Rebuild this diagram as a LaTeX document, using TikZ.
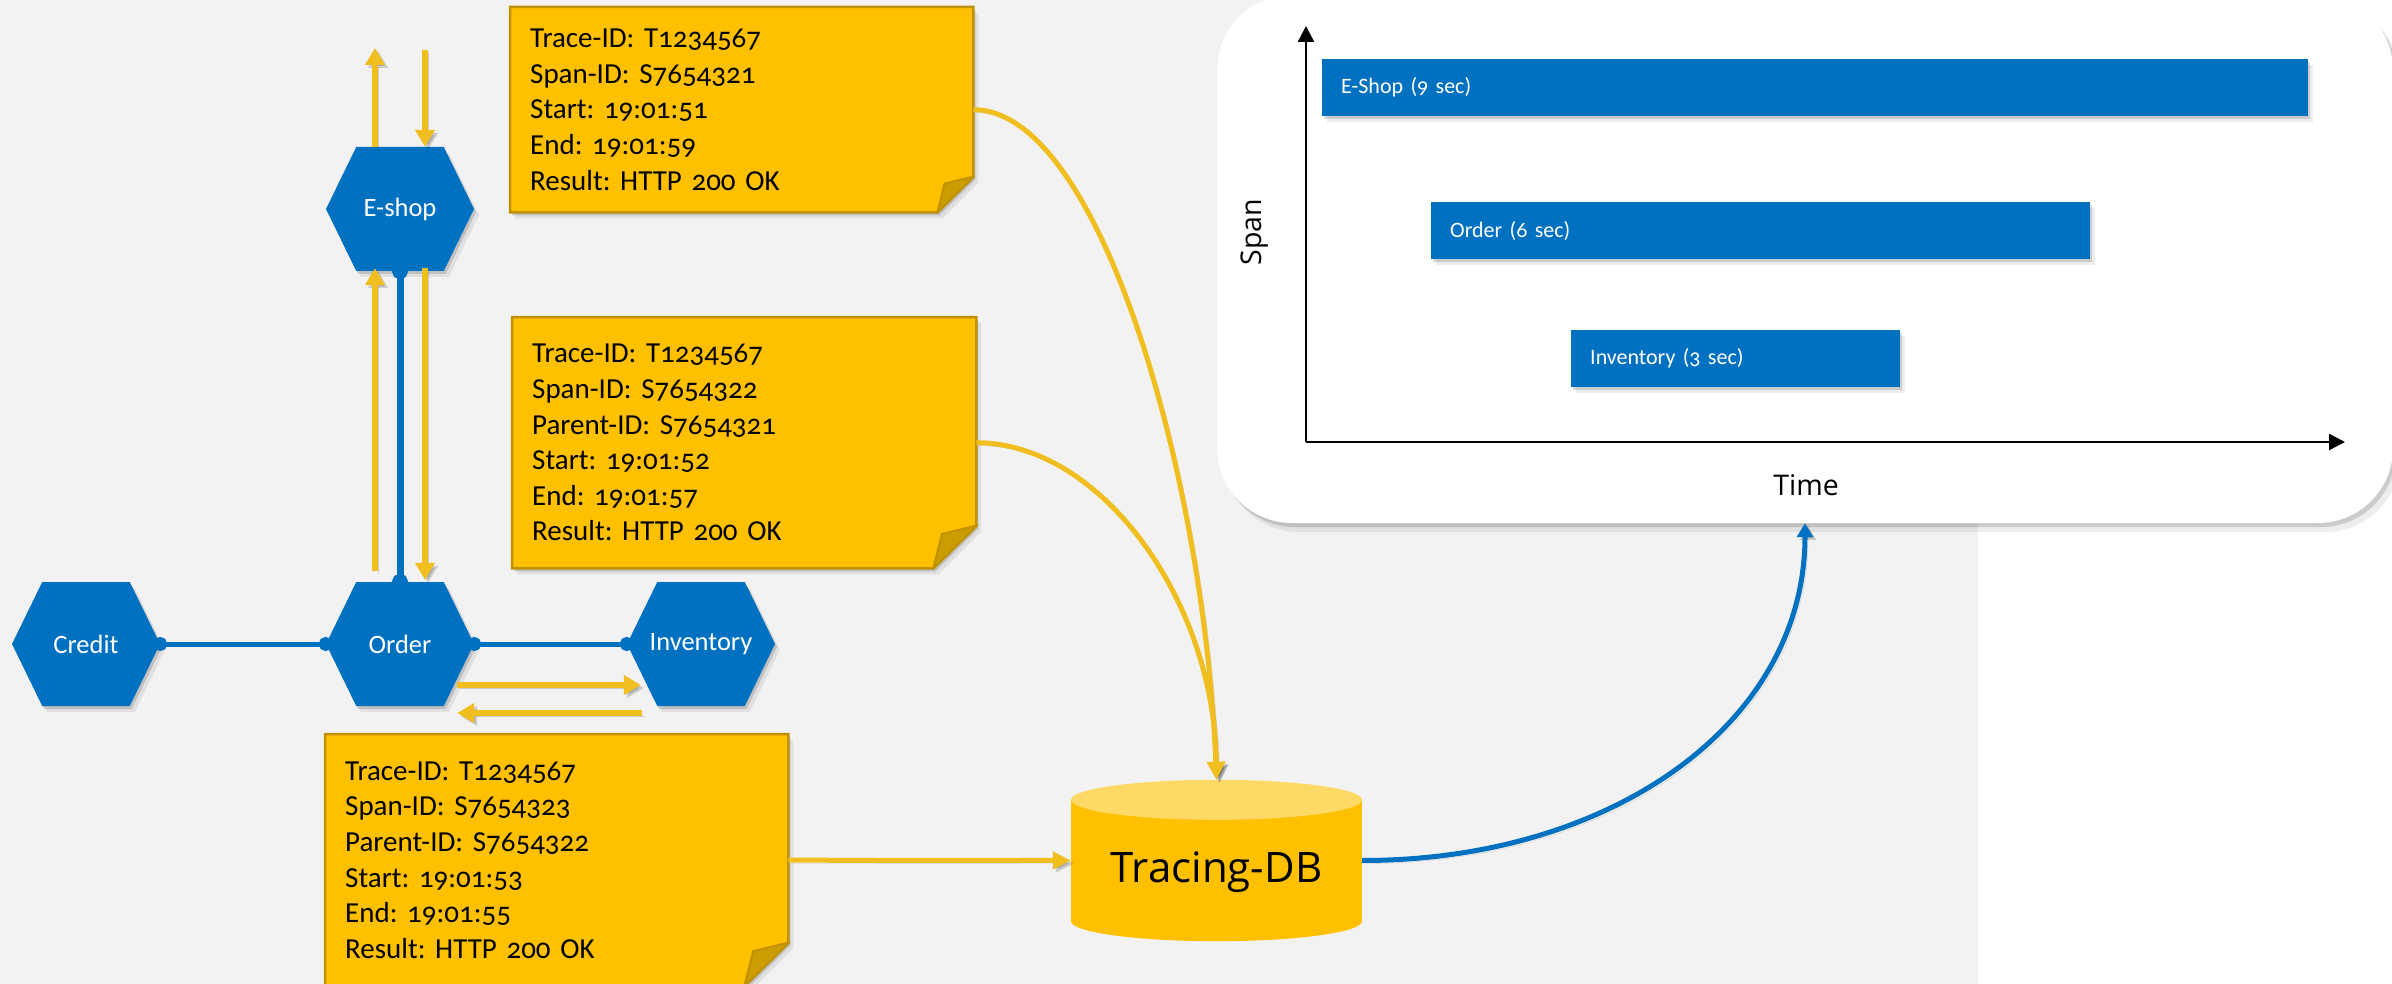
\documentclass[tikz,border=0pt]{standalone}
\usepackage{fontspec}
\setmainfont[Numbers=OldStyle,WordSpace=0.8]{Carlito}
\newfontfamily\uifont{Open Sans}
\usetikzlibrary{shapes.symbols,arrows.meta,shadows,calc}

\pgfdeclarelayer{back}
\pgfdeclarelayer{mid}
\pgfsetlayers{back,mid,main}

\definecolor{canvasgray}{HTML}{F2F2F2}
\definecolor{svcblue}{HTML}{0070C0}
\definecolor{notefill}{HTML}{FFC000}
\definecolor{noteedge}{HTML}{BF9000}
\definecolor{notefold}{HTML}{CC9C00}
\definecolor{flowyellow}{HTML}{F0BE1E}
\definecolor{dbtop}{HTML}{FFD966}

% label that does not widen the hexagon
\newcommand{\hexlabel}[1]{\makebox[0pt]{#1}}

\tikzset{
  softshadow/.style={
    drop shadow={shadow xshift=2pt,shadow yshift=-3pt,opacity=.14,fill=black},
    drop shadow={shadow xshift=5pt,shadow yshift=-6pt,opacity=.07,fill=black}},
  panelshadow/.style={
    drop shadow={shadow xshift=3pt,shadow yshift=-4pt,opacity=.14,fill=black},
    drop shadow={shadow xshift=7pt,shadow yshift=-9pt,opacity=.07,fill=black}},
  lineshadow/.style={preaction={draw=black,opacity=.16,
    transform canvas={xshift=3pt,yshift=-3pt}}},
  hexnode/.style={signal, signal to=east and west, signal pointer angle=128,
    fill=svcblue, minimum width=148pt, minimum height=124pt, inner sep=0pt,
    text=white, font=\fontsize{26.5}{30}\selectfont, softshadow},
  notetext/.style={anchor=north west, inner xsep=20pt, inner ysep=0pt,
    align=left, font=\fontsize{29}{35.6}\selectfont\frenchspacing},
  notepaper/.style={fill=notefill, draw=noteedge, line width=2.5pt, softshadow},
  notefoldst/.style={fill=notefold, draw=noteedge, line width=2pt, line join=round},
  wireV/.style={draw=svcblue, line width=7pt, shorten <=-8pt, shorten >=-8pt,
    {Circle[length=16pt]}-{Circle[length=16pt]}},
  wireH/.style={draw=svcblue, line width=5pt, shorten <=-7pt, shorten >=-7pt,
    {Circle[length=14pt]}-{Circle[length=14pt]}},
  flowarrow/.style={draw=flowyellow, line width=6pt,
    -{Triangle[width=19pt,length=17pt]}, lineshadow},
  flowcurve/.style={draw=flowyellow, line width=5pt,
    -{Triangle[width=17pt,length=18pt]}, lineshadow},
  dataflow/.style={draw=svcblue, line width=5pt,
    -{Triangle[width=16pt,length=14pt]}, lineshadow},
  axisline/.style={draw=black, line width=2.5pt, -{Triangle[width=16pt,length=16pt]}},
  axislabel/.style={font=\uifont\fontsize{28.5}{32}\selectfont, inner sep=0pt},
  panelbox/.style={fill=white, rounded corners=75pt, minimum width=1176pt,
    minimum height=528pt, inner sep=0pt, panelshadow},
  spanbar/.style={anchor=north west, fill=svcblue, text=white, minimum height=57pt,
    inner xsep=19pt, inner ysep=0pt, text width=#1, align=left,
    font=\fontsize{22}{24}\selectfont\frenchspacing, softshadow},
  dbnode/.style={minimum width=291pt, minimum height=161pt, inner sep=0pt},
  dblabel/.style={font=\uifont\fontsize{42}{46}\selectfont, yshift=-11.5pt, inner sep=0pt}
}

% sticky note outline with a curled lower right corner
\newcommand{\notesheet}[2]{%
  \path[notepaper] (#1.north west) -- (#1.north east)
    -- ($(#1.south east)+(0,-#2)$) -- ($(#1.south east)+(-#2,0)$)
    -- (#1.south west) -- cycle;
  \path[notefoldst] ($(#1.south east)+(1,-#2)$)
    -- ($(#1.south east)+(-0.8*#2,-0.8*#2)$)
    -- ($(#1.south east)+(-#2,0)$) -- cycle;}

\begin{document}
\frenchspacing
\begin{tikzpicture}[x=1pt,y=-1pt]
\useasboundingbox (0,0) rectangle (2392,984);

\begin{pgfonlayer}{back}
  \fill[white] (0,0) rectangle (2392,984);
  \fill[canvasgray] (0,0) rectangle (1978,984);
\end{pgfonlayer}

% ---------- span chart ----------
\node[panelbox] (panel) at (1805,259) {};
\coordinate (origin) at (1306,442);
\coordinate (ytip) at (1306,26);
\coordinate (xtip) at (2345,442);
\draw[axisline] (origin) -- (ytip);
\draw[axisline] (origin) -- (xtip);
\node[axislabel, rotate=90] (spanlab) at (1255,232) {Span};
\node[axislabel] (timelab) at (1806,485) {Time};
\node[spanbar=948pt] (barE) at (1322,59) {E-Shop (9 sec)};
\node[spanbar=621pt] (barO) at (1431,202) {Order (6 sec)};
\node[spanbar=291pt] (barI) at (1571,330) {Inventory (3 sec)};

% ---------- services ----------
\node[hexnode] (es)  at (400,209) {\hexlabel{E-shop}};
\node[hexnode] (ord) at (400,644) {\hexlabel{Order}};
\node[hexnode] (cr)  at (86,644)  {\hexlabel{Credit}};
\node[hexnode] (inv) at (701,644) {\hexlabel{Inventory}};

% ---------- trace records ----------
\node[notetext, text width=423pt, minimum height=205pt] (n1) at (510,7)
  {Trace-ID: T1234567\\Span-ID: S7654321\\Start: 19:01:51\\End: 19:01:59\\Result: HTTP 200 OK};
\node[notetext, text width=424pt, minimum height=251pt] (n2) at (512,317)
  {Trace-ID: T1234567\\Span-ID: S7654322\\Parent-ID: S7654321\\Start: 19:01:52\\End: 19:01:57\\Result: HTTP 200 OK};
\node[notetext, text width=423pt, minimum height=252pt] (n3) at (325,734)
  {Trace-ID: T1234567\\Span-ID: S7654323\\Parent-ID: S7654322\\Start: 19:01:53\\End: 19:01:55\\Result: HTTP 200 OK};

% ---------- tracing database ----------
\node[dbnode, label={[dblabel]center:Tracing-DB}] (db) at (1216.5,860.5) {};

\begin{pgfonlayer}{mid}
  \notesheet{n1}{36}
  \notesheet{n2}{43}
  \notesheet{n3}{44}
  \fill[notefill] ($(db.north west)+(0,20)$) rectangle ($(db.south east)+(0,-20)$);
  \fill[notefill] ($(db.south)+(0,-20)$) ellipse [x radius=145.5pt, y radius=20pt];
  \fill[dbtop] ($(db.north)+(0,20)$) ellipse [x radius=145.5pt, y radius=20pt];
\end{pgfonlayer}

% ---------- service calls ----------
\draw[wireV] (es.south) -- (ord.north);
\draw[wireH] (cr.east) -- (ord.west);
\draw[wireH] (ord.east) -- (inv.west);

\coordinate (reqIn)  at (425,50);
\coordinate (respOut) at (375,48);
\draw[flowarrow] ($(es.north)+(-25,0)$) -- (respOut);
\draw[flowarrow] (reqIn) -- ($(es.north)+(25,0)$);
\draw[flowarrow] ($(ord.north)+(-25,-11)$) -- ($(es.south)+(-25,-3)$);
\draw[flowarrow] ($(es.south)+(25,-3)$) -- ($(ord.north)+(25,-2)$);
\draw[flowarrow] ($(ord.east)+(-17,41)$) -- ($(inv.west)+(14,41)$);
\draw[flowarrow] ($(inv.west)+(15,69)$) -- ($(ord.east)+(-17,69)$);

% ---------- reporting ----------
\draw[flowcurve] (n1.east) .. controls +(127,0) and +(-12,-300) .. (db.north);
\draw[flowcurve] (n2.east) .. controls +(124,0) and +(-2,-180) .. (db.north);
\draw[flowcurve] (n3.east) -- (db.west);
\draw[dataflow] (db.east) .. controls +(250,0) and +(0,200) .. (panel.south);
\end{tikzpicture}
\end{document}
